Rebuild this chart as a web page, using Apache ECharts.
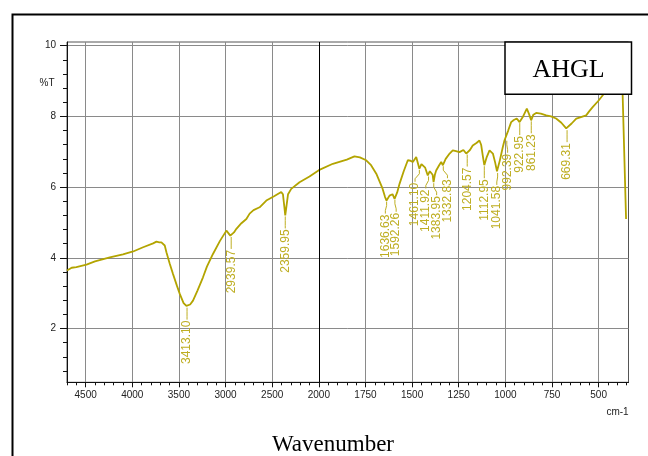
<!DOCTYPE html>
<html>
<head>
<meta charset="utf-8">
<script src="https://cdn.jsdelivr.net/npm/echarts@6/dist/echarts.min.js"></script>
<style>
html,body{margin:0;padding:0;background:#fff;}
#chart{width:648px;height:456px;}
</style>
</head>
<body>
<div id="chart"></div>
<script>
// ---- data ----
const wavenumbers = [4700,4650,4600,4491,4400,4241,4100,3991,3884,3777,3741,3710,3688,3652,3634,3600,3563,3520,3491,3450,3420,3413,3380,3349,3300,3242,3200,3135,3060,2991,2970,2949,2939,2910,2884,2830,2777,2742,2700,2635,2563,2480,2403,2385,2370,2360,2350,2330,2296,2207,2100,2028,2000,1925,1850,1809,1780,1746,1720,1692,1660,1645,1637,1621,1605,1594,1580,1567,1545,1523,1510,1496,1478,1470,1461,1450,1443,1430,1416,1405,1398,1390,1385,1378,1371,1355,1344,1335,1320,1299,1282,1265,1246,1225,1210,1205,1190,1175,1155,1139,1130,1120,1113,1100,1085,1075,1067,1055,1045,1041,1030,1014,1005,996,985,969,955,939,924,905,885,872,862,850,835,810,781,755,728,700,674,669,645,620,595,567,550,531,500,478,440,400,375,372,353];
const transmittance = [3.64,3.72,3.74,3.81,3.90,4.01,4.10,4.18,4.30,4.41,4.46,4.44,4.44,4.35,4.16,3.85,3.54,3.20,2.98,2.72,2.64,2.62,2.68,2.79,3.08,3.45,3.75,4.11,4.48,4.77,4.80,4.63,4.62,4.72,4.82,4.98,5.10,5.25,5.35,5.43,5.62,5.74,5.86,5.80,5.45,5.20,5.40,5.80,5.95,6.14,6.30,6.43,6.48,6.66,6.78,6.87,6.84,6.76,6.62,6.38,5.98,5.72,5.62,5.76,5.80,5.67,5.85,6.10,6.45,6.76,6.75,6.71,6.85,6.80,6.52,6.65,6.66,6.55,6.33,6.45,6.43,6.35,6.14,6.35,6.47,6.62,6.71,6.62,6.80,6.95,7.04,7.02,6.99,7.05,6.95,6.95,7.05,7.18,7.25,7.32,7.20,6.85,6.62,6.85,7.04,7.00,6.95,6.70,6.45,6.43,6.75,7.13,7.32,7.34,7.60,7.84,7.90,7.94,7.84,8.00,8.22,8.05,7.89,8.05,8.10,8.08,8.03,8.00,7.94,7.82,7.66,7.64,7.80,7.94,7.98,8.03,8.15,8.27,8.45,8.60,8.85,9.10,9.30,9.30,5.10];
const peakWavenumbers = [3413.10,2939.57,2359.95,1636.63,1592.26,1461.10,1411.92,1383.95,1332.83,1204.57,1112.95,1041.58,992.39,922.95,861.23,669.31];
const peakTransmittance = [2.62,4.62,5.20,5.62,5.67,6.52,6.33,6.14,6.62,6.95,6.62,6.43,7.34,7.84,7.89,7.64];
const xTickLabels = [4500,4000,3500,3000,2500,2000,1750,1500,1250,1000,750,500];
const yTickLabels = [2,4,6,8,10];
const xRange = [4700, 340];
const yRange = [0.48, 10.105];
const scaleBreak = 2000; // above this wavenumber the axis is compressed 2:1

// ---- helpers ----
const toT = w => w <= scaleBreak ? w : scaleBreak + (w - scaleBreak) / 2;
const fromT = t => t <= scaleBreak ? t : scaleBreak + (t - scaleBreak) * 2;

const xMajorT = xTickLabels.map(toT);
const xMinorT = [];
for (let t = 350; t <= toT(xRange[0]); t += 50) { if (t % 250 !== 0) xMinorT.push(t); }
const yMinor = [];
for (let i = 2; i <= 25; i++) { if (i % 5 !== 0) yMinor.push(+(i * 0.4).toFixed(1)); }

const lineColor = '#b3a400';
const labelColor = '#beae22';
const axisFont = 'Liberation Sans, Arial, sans-serif';
const LABEL_SPACING = 10.8;

// spread peak labels horizontally so they do not overlap
function layoutLabelX(api) {
  const xs = peakWavenumbers.map((w, i) => api.coord([toT(w), peakTransmittance[i]])[0]);
  const order = xs.map((x, i) => i).sort((a, b) => xs[a] - xs[b]);
  let groups = order.map(i => ({idx: [i], center: xs[i]}));
  const pos = (g, k) => g.center + (k - (g.idx.length - 1) / 2) * LABEL_SPACING;
  let merged = true;
  while (merged) {
    merged = false;
    for (let i = 0; i < groups.length - 1; i++) {
      const a = groups[i], b = groups[i + 1];
      if (pos(b, 0) - pos(a, a.idx.length - 1) < LABEL_SPACING - 0.01) {
        const idx = a.idx.concat(b.idx);
        const center = idx.reduce((s, j) => s + xs[j], 0) / idx.length;
        groups.splice(i, 2, {idx, center});
        merged = true;
        break;
      }
    }
  }
  const out = [];
  groups.forEach(g => g.idx.forEach((j, k) => { out[j] = pos(g, k); }));
  return out;
}

const chart = echarts.init(document.getElementById('chart'), null, {renderer: 'canvas'});

const commonX = {
  type: 'value', min: toT(xRange[1]), max: toT(xRange[0]), inverse: true, gridIndex: 0
};
const commonY = {
  type: 'value', min: yRange[0], max: yRange[1], gridIndex: 0
};

chart.setOption({
  animation: false,
  backgroundColor: '#fff',
  grid: {left: 67, top: 42, right: 19.5, bottom: 73.7, show: true, borderColor: '#555', borderWidth: 1, outerBoundsMode: 'none'},
  xAxis: [
    Object.assign({}, commonX, {
      position: 'bottom',
      axisLine: {show: true, onZero: false, lineStyle: {color: '#111', width: 1}},
      axisTick: {show: true, customValues: xMajorT, length: 5, lineStyle: {color: '#111'}},
      axisLabel: {show: true, customValues: xMajorT, margin: 8, color: '#222', fontSize: 10, fontFamily: axisFont,
        formatter: v => String(Math.round(fromT(v)))},
      splitLine: {show: true, lineStyle: {color: '#8a8a8a', width: 1}}
    }),
    Object.assign({}, commonX, {
      position: 'bottom',
      axisLine: {show: false, onZero: false},
      axisTick: {show: true, customValues: xMinorT, length: 3, lineStyle: {color: '#111'}},
      axisLabel: {show: false},
      splitLine: {show: false}
    })
  ],
  yAxis: [
    Object.assign({}, commonY, {
      position: 'left',
      axisLine: {show: true, onZero: false, lineStyle: {color: '#111', width: 1}},
      axisTick: {show: true, customValues: yTickLabels, length: 7, lineStyle: {color: '#111'}},
      axisLabel: {show: true, customValues: yTickLabels, margin: 11, color: '#222', fontSize: 10, fontFamily: axisFont},
      splitLine: {show: true, lineStyle: {color: '#8a8a8a', width: 1}}
    }),
    Object.assign({}, commonY, {
      position: 'left',
      axisLine: {show: false, onZero: false},
      axisTick: {show: true, customValues: yMinor, length: 4, lineStyle: {color: '#111'}},
      axisLabel: {show: false},
      splitLine: {show: false}
    })
  ],
  series: [
    {
      type: 'line',
      xAxisIndex: 0, yAxisIndex: 0,
      data: wavenumbers.map((w, i) => [toT(w), transmittance[i]]),
      showSymbol: false,
      lineStyle: {color: lineColor, width: 1.8},
      z: 3,
      markLine: {
        silent: true, symbol: 'none', animation: false,
        label: {show: false},
        lineStyle: {color: '#000', width: 1, type: 'solid'},
        data: [{xAxis: toT(scaleBreak)}]
      }
    },
    {
      type: 'custom',
      xAxisIndex: 0, yAxisIndex: 0,
      data: peakWavenumbers.map((w, i) => [toT(w), peakTransmittance[i]]),
      clip: false,
      z: 4,
      renderItem: function (params, api) {
        const p = api.coord([api.value(0), api.value(1)]);
        const lx = layoutLabelX(api)[params.dataIndex];
        const gap = 13;
        return {
          type: 'group',
          children: [
            {type: 'polyline', shape: {points: [[p[0], p[1] + 1], [p[0], p[1] + 5], [lx, p[1] + gap - 3], [lx, p[1] + gap]]},
              style: {stroke: labelColor, lineWidth: 1, fill: null}},
            {type: 'text', x: lx, y: p[1] + gap + 1, rotation: Math.PI / 2,
              style: {text: peakWavenumbers[params.dataIndex].toFixed(2), align: 'right', verticalAlign: 'middle',
                fill: labelColor, font: '12px ' + axisFont}}
          ]
        };
      }
    }
  ],
  graphic: [
    {type: 'rect', left: 10, top: 12, shape: {x: 0, y: 0, width: 700, height: 500},
      style: {fill: 'none', stroke: '#000', lineWidth: 2}, z: 0, silent: true},
    {type: 'rect', shape: {x: 505, y: 42, width: 126.5, height: 52.3},
      style: {fill: '#fff', stroke: '#000', lineWidth: 1.5}, z: 10, silent: true},
    {type: 'text', x: 568.5, y: 70, style: {text: 'AHGL', font: '26px "Liberation Serif", "Times New Roman", serif', fill: '#000', align: 'center', verticalAlign: 'middle'}, z: 11},
    {type: 'text', x: 47, y: 83.5, style: {text: '%T', font: '10px ' + axisFont, fill: '#222', align: 'center', verticalAlign: 'middle'}, z: 11},
    {type: 'text', x: 617.5, y: 412.5, style: {text: 'cm-1', font: '10px ' + axisFont, fill: '#222', align: 'center', verticalAlign: 'middle'}, z: 11},
    {type: 'text', x: 333, y: 445, style: {text: 'Wavenumber', font: '23px "Liberation Serif", "Times New Roman", serif', fill: '#000', align: 'center', verticalAlign: 'middle'}, z: 11}
  ]
});
</script>
</body>
</html>
